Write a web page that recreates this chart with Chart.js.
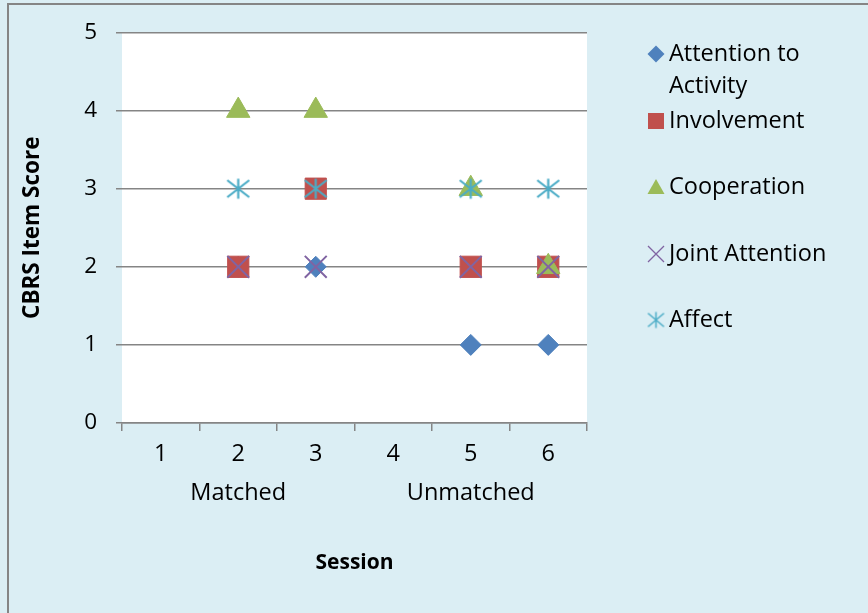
<!DOCTYPE html>
<html>
<head>
<meta charset="utf-8">
<script src="https://cdn.jsdelivr.net/npm/chart.js"></script>
<style>
  html, body { margin: 0; padding: 0; background: #dbeef4; }
  #wrap { position: relative; width: 868px; height: 613px; }
</style>
</head>
<body>
<div id="wrap"><canvas id="chart" width="868" height="613"></canvas></div>
<script>
// sessions and their group under the axis
const sessions = ['1', '2', '3', '4', '5', '6'];
const groups = ['', 'Matched', '', '', 'Unmatched', ''];

// CBRS item scores per session (null = not recorded)
const attention = [null, 2, 2, null, 1, 1];
const involvement = [null, 2, 3, null, 2, 2];
const cooperation = [null, 4, 4, null, 3, 2];
const jointAttention = [null, 2, 2, null, 2, 2];
const affect = [null, 3, 3, null, 3, 3];

const seriesNames = ['Attention to Activity', 'Involvement', 'Cooperation', 'Joint Attention', 'Affect'];
const yTicks = [0, 1, 2, 3, 4, 5];

const colors = ['#4f81bd', '#c0504d', '#9bbb59', '#8064a2', '#4bacc6'];
const font = "'Open Sans', sans-serif";

function asterisk(rx, ry, lw) {
    const c = document.createElement('canvas');
    c.width = Math.ceil(rx * 2 + lw * 2);
    c.height = Math.ceil(ry * 2 + lw * 2);
    const g = c.getContext('2d');
    const mx = c.width / 2, my = c.height / 2;
    g.strokeStyle = colors[4];
    g.lineWidth = lw;
    g.beginPath();
    g.moveTo(mx, my - ry); g.lineTo(mx, my + ry);
    g.moveTo(mx - rx, my - ry * 0.85); g.lineTo(mx + rx, my + ry * 0.85);
    g.moveTo(mx - rx, my + ry * 0.85); g.lineTo(mx + rx, my - ry * 0.85);
    g.stroke();
    return c;
}

const markerStyles = [
    { pointStyle: 'rectRot', radius: 10.5, borderWidth: 1 },
    { pointStyle: 'rect', radius: 15, borderWidth: 1 },
    { pointStyle: 'triangle', radius: 13.5, borderWidth: 1 },
    { pointStyle: 'crossRot', radius: 15.5, borderWidth: 2 },
    { pointStyle: asterisk(11, 10, 2.2), radius: 11, borderWidth: 0 }
];
const legendStarImg = asterisk(8, 8, 1.5);

const seriesData = [attention, involvement, cooperation, jointAttention, affect];

// white plot area + frame on top/left
const backdrop = {
    id: 'backdrop',
    beforeDraw(chart) {
        const { ctx, chartArea: a } = chart;
        ctx.save();
        ctx.fillStyle = '#ffffff';
        ctx.fillRect(a.left, a.top, a.right - a.left, a.bottom - a.top);
        ctx.restore();
    },
    afterDraw(chart) {
        const ctx = chart.ctx;
        ctx.save();
        ctx.fillStyle = '#858585';
        ctx.fillRect(7, 3, chart.width, 2);
        ctx.fillRect(7, 3, 2, chart.height);
        ctx.restore();
    }
};

// legend drawn by hand so long names can wrap like the original
const legendY = [54, 121, 187, 254, 320];
function drawLegendMarker(ctx, i, x, y) {
    ctx.save();
    ctx.fillStyle = colors[i];
    ctx.strokeStyle = colors[i];
    ctx.beginPath();
    if (i === 0) {
        ctx.moveTo(x, y - 8.5); ctx.lineTo(x + 8.5, y); ctx.lineTo(x, y + 8.5); ctx.lineTo(x - 8.5, y);
        ctx.closePath(); ctx.fill();
    } else if (i === 1) {
        ctx.fillRect(x - 8, y - 8, 16, 16);
    } else if (i === 2) {
        ctx.moveTo(x, y - 8); ctx.lineTo(x + 8.5, y + 7); ctx.lineTo(x - 8.5, y + 7);
        ctx.closePath(); ctx.fill();
    } else if (i === 3) {
        ctx.lineWidth = 1.3;
        ctx.moveTo(x - 8, y - 8); ctx.lineTo(x + 8, y + 8);
        ctx.moveTo(x - 8, y + 8); ctx.lineTo(x + 8, y - 8);
        ctx.stroke();
    } else {
        ctx.drawImage(legendStarImg, x - legendStarImg.width / 2, y - legendStarImg.height / 2);
    }
    ctx.restore();
}
const sideLegend = {
    id: 'sideLegend',
    afterDraw(chart) {
        const ctx = chart.ctx;
        ctx.save();
        ctx.font = '23.5px ' + font;
        ctx.fillStyle = '#000000';
        ctx.textBaseline = 'middle';
        seriesNames.forEach((name, i) => {
            // wrap words past ~180px
            const words = name.split(' ');
            const lines = [];
            let cur = '';
            words.forEach(w => {
                const t = cur ? cur + ' ' + w : w;
                if (ctx.measureText(t).width > 180 && cur) { lines.push(cur); cur = w; } else { cur = t; }
            });
            lines.push(cur);
            drawLegendMarker(ctx, i, 656, legendY[i]);
            lines.forEach((l, k) => ctx.fillText(l, 669, legendY[i] + k * 32));
        });
        ctx.restore();
    }
};

new Chart(document.getElementById('chart').getContext('2d'), {
    type: 'line',
    data: {
        labels: sessions.map((s, i) => [s, groups[i]]),
        datasets: seriesData.map((d, i) => ({
            label: seriesNames[i],
            data: d,
            showLine: false,
            order: 5 - i,
            pointStyle: markerStyles[i].pointStyle,
            pointRadius: markerStyles[i].radius,
            pointBorderWidth: markerStyles[i].borderWidth,
            pointBackgroundColor: colors[i],
            pointBorderColor: colors[i]
        }))
    },
    options: {
        responsive: false,
        animation: false,
        events: [],
        layout: { padding: { left: 0, top: 25.5, right: 281, bottom: 0 } },
        plugins: {
            legend: { display: false },
            tooltip: { enabled: false }
        },
        scales: {
            x: {
                offset: true,
                afterFit: s => { s.height = 190; },
                grid: {
                    offset: true,
                    drawOnChartArea: false,
                    drawTicks: true,
                    tickLength: 8,
                    color: '#858585',
                    lineWidth: 1.5
                },
                border: { display: true, color: '#858585', width: 1.5 },
                ticks: {
                    autoSkip: false,
                    padding: 4,
                    color: '#000000',
                    font: { family: font, size: 23.5, lineHeight: 1.66 },
                    maxRotation: 0
                },
                title: {
                    display: true,
                    text: 'Session',
                    color: '#000000',
                    font: { family: font, size: 21, weight: 'bold', lineHeight: 1.2 },
                    padding: { top: 0, bottom: 37 }
                }
            },
            y: {
                min: 0,
                max: 5,
                afterFit: s => { s.width = 122; },
                afterBuildTicks: s => { s.ticks = yTicks.map(v => ({ value: v })); },
                grid: {
                    color: '#858585',
                    lineWidth: 1.5,
                    tickLength: 6
                },
                border: { display: false },
                ticks: {
                    padding: 19,
                    color: '#000000',
                    font: { family: font, size: 22.5 }
                },
                title: {
                    display: true,
                    text: 'CBRS Item Score',
                    color: '#000000',
                    font: { family: font, size: 22.5, weight: 'bold', lineHeight: 1.2 },
                    padding: { top: 19.5, bottom: 0 }
                }
            }
        }
    },
    plugins: [backdrop, sideLegend]
});
</script>
</body>
</html>
